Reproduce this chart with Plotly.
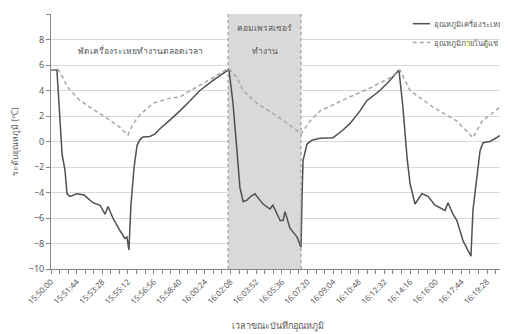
import plotly.graph_objects as go

# ---------------- data ----------------
evap_times = ["15:50:00", "15:50:24", "15:50:45", "15:50:57", "15:51:05", "15:51:17", "15:51:45",
              "15:52:14", "15:52:26", "15:52:50", "15:53:19", "15:53:39", "15:53:51", "15:54:11",
              "15:54:40", "15:55:00", "15:55:08", "15:55:16", "15:55:24", "15:55:37", "15:55:49",
              "15:56:01", "15:56:13", "15:56:41", "15:57:02", "15:57:22", "15:58:03", "15:58:43",
              "15:59:24", "16:00:04", "16:00:57", "16:01:25", "16:01:58", "16:02:02", "16:02:18",
              "16:02:34", "16:02:46", "16:02:59", "16:03:15", "16:03:31", "16:03:47", "16:04:03",
              "16:04:20", "16:04:48", "16:05:00", "16:05:29", "16:05:41", "16:05:49", "16:06:09",
              "16:06:38", "16:06:54", "16:06:58", "16:07:02", "16:07:18", "16:07:38", "16:08:11",
              "16:09:04", "16:09:44", "16:10:12", "16:10:53", "16:11:21", "16:12:14", "16:12:55",
              "16:13:31", "16:13:47", "16:14:04", "16:14:16", "16:14:36", "16:15:04", "16:15:29",
              "16:15:57", "16:16:38", "16:16:50", "16:17:10", "16:17:26", "16:17:51", "16:18:19",
              "16:18:23", "16:18:31", "16:18:47", "16:19:00", "16:19:12", "16:19:40", "16:20:33"]
evap_temp = [5.6, 5.6, -1.0, -2.3, -4.1, -4.3, -4.1,
             -4.2, -4.4, -4.8, -5.0, -5.7, -5.1, -6.0,
             -7.0, -7.6, -7.5, -8.5, -5.0, -2.0, -0.3,
             0.15, 0.35, 0.4, 0.6, 1.0, 1.7, 2.4,
             3.2, 4.0, 4.8, 5.2, 5.6, 5.6, 3.0,
             -0.7, -3.6, -4.7, -4.6, -4.3, -4.1, -4.5,
             -4.9, -5.3, -5.0, -6.2, -6.2, -5.5, -6.8,
             -7.5, -8.3, -4.4, -1.5, -0.2, 0.1, 0.25,
             0.3, 0.9, 1.4, 2.4, 3.2, 4.0, 4.8,
             5.6, 2.7, -1.3, -3.3, -4.9, -4.1, -4.3,
             -5.0, -5.4, -4.8, -5.7, -6.2, -7.8, -8.8,
             -9.0, -5.4, -2.5, -0.7, -0.1, 0.0, 0.6]

cab_times = ["15:50:00", "15:50:28", "15:50:49", "15:51:05", "15:51:58", "15:53:19", "15:54:28",
             "15:55:12", "15:55:33", "15:56:01", "15:56:54", "15:58:03", "15:58:43", "15:59:52",
             "16:00:57", "16:01:46", "16:02:02", "16:02:34", "16:02:59", "16:03:55", "16:05:16",
             "16:06:21", "16:06:54", "16:07:30", "16:08:11", "16:10:12", "16:11:34", "16:12:55",
             "16:13:35", "16:14:16", "16:15:49", "16:17:26", "16:18:31", "16:19:08", "16:20:21",
             "16:20:41"]
cab_temp = [5.6, 5.7, 5.0, 4.3, 3.2, 2.2, 1.3,
            0.5, 1.4, 2.1, 3.0, 3.4, 3.5, 4.3,
            5.0, 5.6, 5.7, 5.0, 4.0, 3.0, 2.0,
            1.1, 0.6, 1.6, 2.4, 3.5, 4.2, 5.0,
            5.6, 4.0, 2.7, 1.6, 0.3, 1.6, 2.7,
            3.0]

tick_labels = ["15:50:00", "15:51:44", "15:53:28", "15:55:12", "15:56:56", "15:58:40",
               "16:00:24", "16:02:08", "16:03:52", "16:05:36", "16:07:20", "16:09:04",
               "16:10:48", "16:12:32", "16:14:16", "16:16:00", "16:17:44", "16:19:28"]

compressor_on = ["16:01:58", "16:06:54"]
x_end = "16:20:41"

series_names = ["อุณหภูมิเครื่องระเหย", "อุณหภูมิภายในตู้แช่"]
note_fan = "พัดเครื่องระเหยทำงานตลอดเวลา"
note_comp = ["คอมเพรสเซอร์", "ทำงาน"]
x_title = "เวลาขณะบันทึกอุณหภูมิ"
y_title = "ระดับอุณหภูมิ (<sup>o</sup>C)"


def secs(t):
    h, m, s = (int(v) for v in t.split(":"))
    return (h * 3600 + m * 60 + s) - (15 * 3600 + 50 * 60)


FONT = "Noto Sans, DejaVu Sans, sans-serif"
TXT = "#595959"
SOLID = "#505050"
DASHC = "#a6a6a6"
DASH = "4px,3px"

fig = go.Figure()
fig.add_trace(go.Scatter(x=[secs(t) for t in evap_times], y=evap_temp, mode="lines",
                         name=series_names[0], line=dict(color=SOLID, width=1.5)))
fig.add_trace(go.Scatter(x=[secs(t) for t in cab_times], y=cab_temp, mode="lines",
                         name=series_names[1], line=dict(color=DASHC, width=1.5, dash=DASH)))

x0, x1 = secs(compressor_on[0]), secs(compressor_on[1])
fig.add_shape(type="rect", xref="x", yref="y", x0=x0, x1=x1, y0=-10, y1=10,
              fillcolor="#d9d9d9", line=dict(width=0), layer="below")
for xv in (x0, x1):
    fig.add_shape(type="line", xref="x", yref="y", x0=xv, x1=xv, y0=-10, y1=10,
                  line=dict(color="#8c8c8c", width=1, dash="dot"), layer="above")

fig.add_annotation(x=361, y=7.15, text=note_fan, showarrow=False,
                   font=dict(size=8.5, color=TXT, family=FONT))
mid = (x0 + x1) / 2
fig.add_annotation(x=mid, y=8.95, text=note_comp[0], showarrow=False,
                   font=dict(size=8.5, color=TXT, family=FONT))
fig.add_annotation(x=mid, y=7.15, text=note_comp[1], showarrow=False,
                   font=dict(size=8.5, color=TXT, family=FONT))

# manual legend (paper coords of plot area)
leg_rows = [(0.962, SOLID, None), (0.888, DASHC, DASH)]
for (yy, col, dsh), name in zip(leg_rows, series_names):
    fig.add_shape(type="line", xref="paper", yref="paper", x0=0.797, x1=0.835, y0=yy, y1=yy,
                  line=dict(color=col, width=1.5, dash=dsh))
    fig.add_annotation(xref="paper", yref="paper", x=0.839, y=yy, text=name, showarrow=False,
                       xanchor="left", yanchor="middle", font=dict(size=7.5, color=TXT, family=FONT))

# axis titles
fig.add_annotation(xref="paper", yref="paper", x=0.5, y=-0.22, text=x_title, showarrow=False,
                   xanchor="center", yanchor="middle", font=dict(size=9, color=TXT, family=FONT))
fig.add_annotation(xref="paper", yref="paper", x=-0.079, y=0.5, text=y_title, showarrow=False,
                   textangle=-90, xanchor="center", yanchor="middle",
                   font=dict(size=8.5, color=TXT, family=FONT))

# page body has an 8px default margin -> figure is 8px smaller, margins shifted
fig.update_layout(
    width=500, height=326,
    margin=dict(l=43, r=3, t=6, b=65),
    paper_bgcolor="white", plot_bgcolor="white",
    font=dict(family=FONT, size=9, color=TXT),
    showlegend=False,
    xaxis=dict(range=[0, secs(x_end)], tickmode="array", automargin=False,
               tickvals=[secs(t) for t in tick_labels], ticktext=tick_labels,
               tickangle=-45, tickfont=dict(size=8, color=TXT),
               showgrid=False, zeroline=False, showline=True, linecolor="#868686",
               ticks="outside", ticklen=4, tickcolor="#868686",
               minor=dict(dtick=104 / 3, tick0=0, ticks="outside", ticklen=4,
                          tickcolor="#868686", showgrid=False)),
    yaxis=dict(range=[-10, 10], dtick=2, tick0=-10, showgrid=True, gridcolor="#d9d9d9",
               automargin=False,
               zeroline=False, showline=True, linecolor="#868686",
               ticks="outside", ticklen=4, tickcolor="#868686",
               tickfont=dict(size=9, color=TXT)),
)

fig.write_html("out.html")
